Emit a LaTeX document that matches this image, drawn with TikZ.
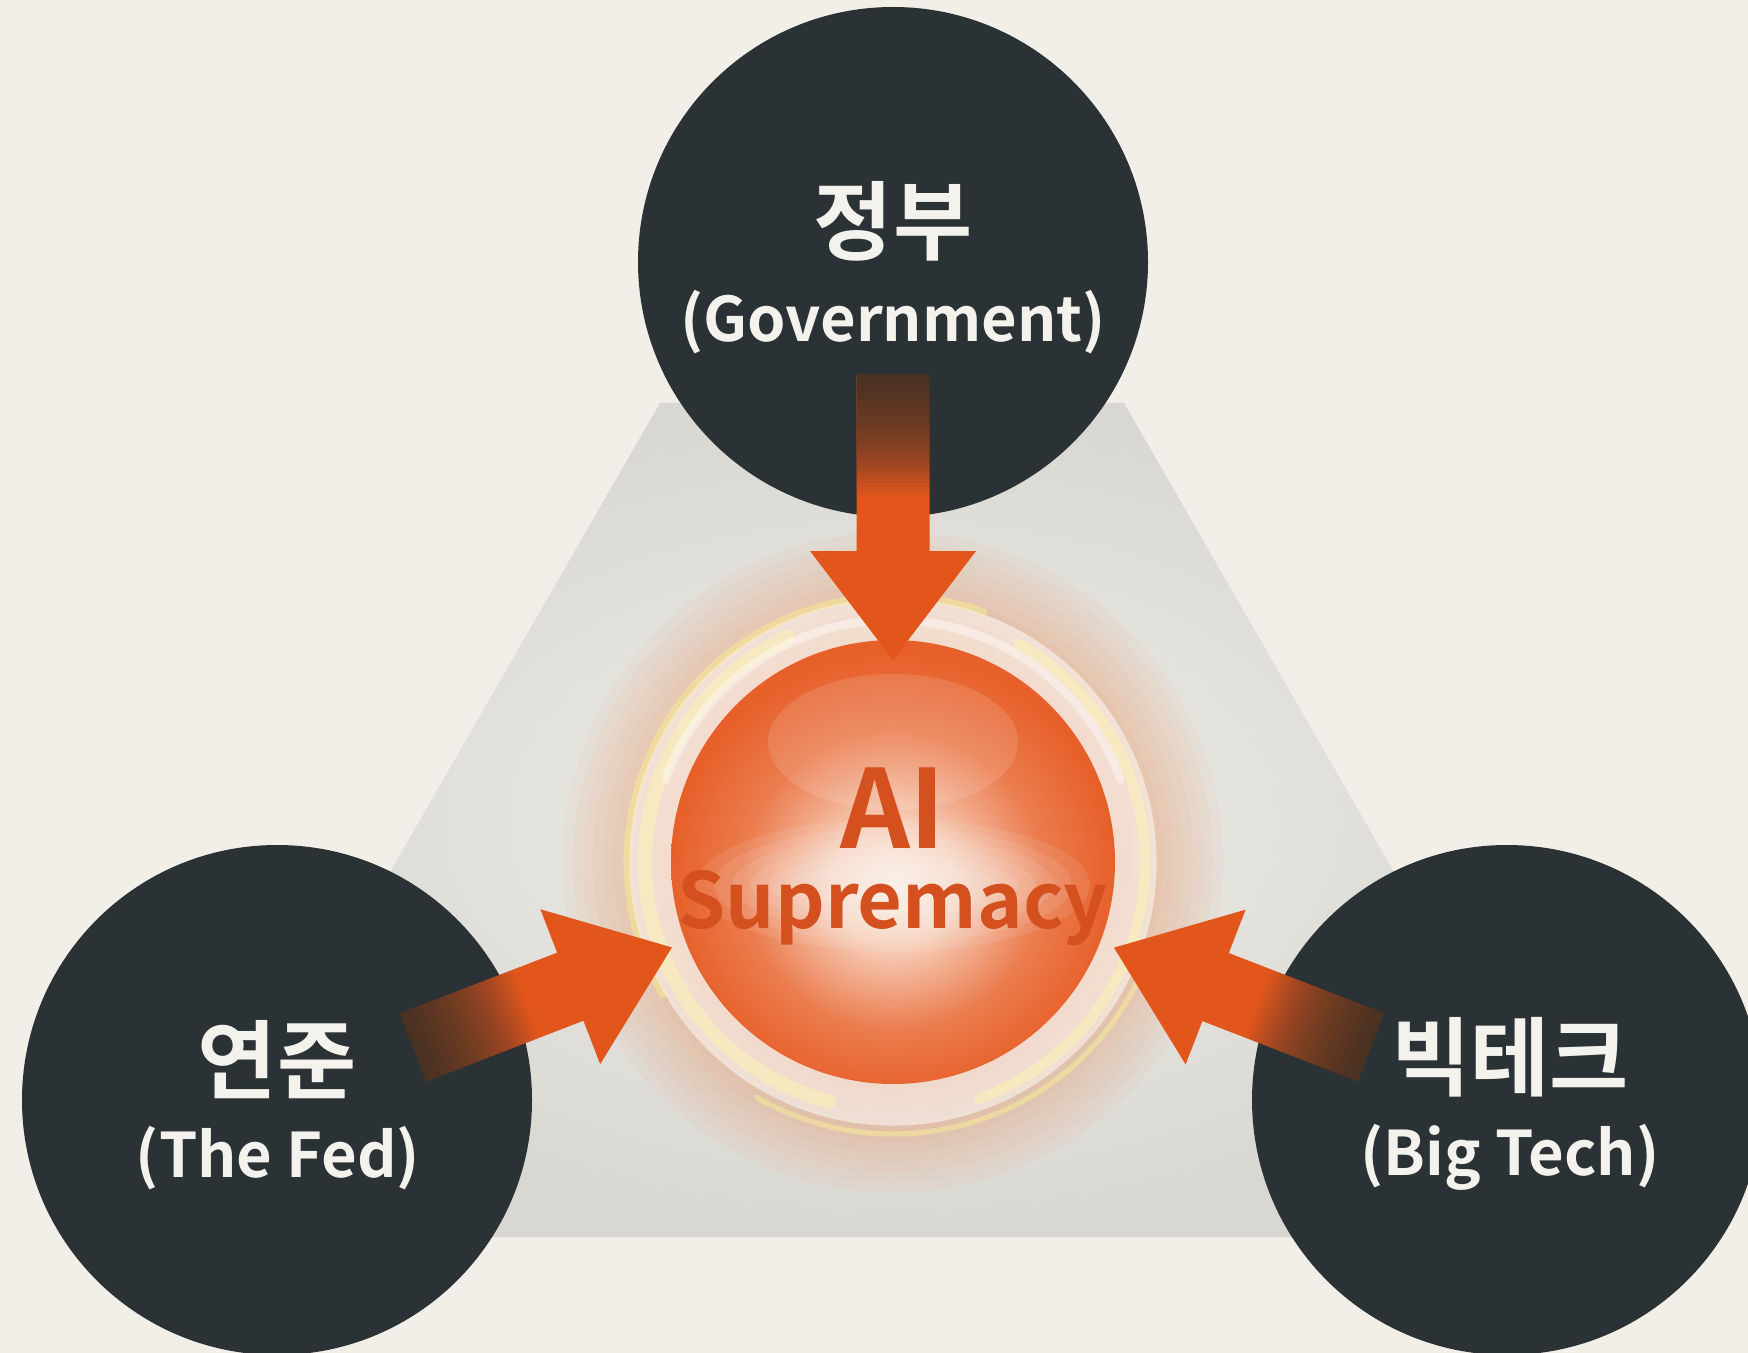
\documentclass[tikz,border=0pt]{standalone}
\usepackage{fontspec}
\setmainfont{Noto Sans CJK KR}[BoldFont={Noto Sans CJK KR Bold}]
\newfontfamily\krfont{Noto Sans CJK KR}[BoldFont={Noto Sans CJK KR Bold}]
\usetikzlibrary{calc}

\definecolor{paper}{HTML}{F2EFE8}
\definecolor{trilight}{HTML}{F0EEE9}
\definecolor{tridark}{HTML}{D9D7D2}
\definecolor{slate}{HTML}{2B3235}
\definecolor{flame}{HTML}{E3561B}
\definecolor{ballrim}{HTML}{E7602A}
\definecolor{ballcore}{HTML}{FBEADD}
\definecolor{aitext}{HTML}{D4501E}
\definecolor{chalk}{HTML}{F4F2EC}
\definecolor{peach}{HTML}{F0925E}

% light centre of the ball sits a little below the middle
\pgfdeclareradialshading{ballglow}{\pgfpoint{0bp}{-3bp}}{color(0bp)=(ballcore); color(7bp)=(ballcore!80!ballrim); color(17bp)=(ballrim!80!ballcore); color(25bp)=(ballrim); color(50bp)=(ballrim)}

\begin{document}
\begin{tikzpicture}[x=0.1mm, y=-0.1mm,
    player/.style={circle, fill=slate, minimum size=51mm, inner sep=0pt},
    krlabel/.style={text=chalk, font=\krfont\bfseries\fontsize{24.5}{28}\selectfont},
    enlabel/.style={text=chalk, font=\bfseries\fontsize{17.5}{21}\selectfont},
    swirl/.style={line cap=round, opacity=0.4}]
\useasboundingbox (0,0) rectangle (1748,1353);
\clip (0,0) rectangle (1748,1353);
\fill[paper] (0,0) rectangle (1748,1353);

% grey triangle behind everything
\shade[inner color=trilight, outer color=tridark] (180,1237) -- (660,403) -- (1124,403) -- (1604,1237) -- cycle;

% soft glow round the core
\coordinate (core) at (893,862);
\foreach \r in {330,320,...,226}
  \fill[peach, opacity=0.06] (core) circle (\r);
\draw[white, line width=18, opacity=0.5] (core) circle (232);

% the ball
\node[circle, minimum size=44.4mm, inner sep=0pt, shading=ballglow] (ai) at (core) {};
\foreach \k in {1,...,6}
  \fill[white, opacity=0.09] (893,885) ellipse ({215-\k*18} and {75-\k*9});
\fill[white, opacity=0.12] (893,742) ellipse (125 and 68);

% light swirls
\draw[swirl, yellow!35!white, line width=4] (core) ++(105:248) arc[start angle=105, end angle=245, radius=248];
\draw[swirl, yellow!45!white, line width=2] (core) ++(150:266) arc[start angle=150, end angle=290, radius=266];
\draw[swirl, yellow!35!white, line width=3] (core) ++(-60:252) arc[start angle=-60, end angle=70, radius=252];
\draw[swirl, yellow!45!white, line width=1.5] (core) ++(20:272) arc[start angle=20, end angle=120, radius=272];
\draw[swirl, white, line width=2.5] (core) ++(200:242) arc[start angle=200, end angle=340, radius=242];

% the three players
\node[player] (gov) at (893,262) {};
\node[player] (fed) at (277,1100) {};
\node[player] (tech) at (1507,1100) {};

% fat arrows, tail fading into the dark circle
\foreach \src/\tailgap/\tipgap in {gov/11.3/20.2, fed/14.6/23.7, tech/14.6/23.7} {
  \coordinate (tail) at ($(\src)!\tailgap mm!(ai)$);
  \coordinate (tip) at ($(ai)!\tipgap mm!(\src)$);
  \coordinate (neck) at ($(tip)!10.9mm!(tail)$);
  \fill[flame] ($(tail)!3.65mm!90:(tip)$) -- ($(neck)!3.65mm!-90:(tail)$) -- ($(neck)!8.3mm!-90:(tail)$)
    -- (tip) -- ($(neck)!8.3mm!90:(tail)$) -- ($(neck)!3.65mm!90:(tail)$) -- ($(tail)!3.65mm!-90:(tip)$) -- cycle;
  \foreach \k in {1,...,30} {
    \coordinate (band) at ($(tail)!\k*0.4mm!(tip)$);
    \fill[slate, opacity=0.05] ($(tail)!3.65mm!90:(tip)$) -- ($(band)!3.65mm!-90:(tail)$)
      -- ($(band)!3.65mm!90:(tail)$) -- ($(tail)!3.65mm!-90:(tip)$) -- cycle;
  }
}

% labels
\node[krlabel] (govkr) at (893,221) {정부};
\node[enlabel] (goven) at (893,322) {(Government)};
\node[krlabel] (fedkr) at (277,1060) {연준};
\node[enlabel] (feden) at (278,1158) {(The Fed)};
\node[krlabel] (techkr) at (1510,1057) {빅테크};
\node[enlabel] (techen) at (1510,1157) {(Big Tech)};
\node[text=aitext, font=\bfseries\fontsize{31}{35}\selectfont] (aiword) at (893,808) {AI};
\node[text=aitext, font=\bfseries\fontsize{22}{26}\selectfont, anchor=base] (supword) at (893,928) {Supremacy};
\end{tikzpicture}
\end{document}
